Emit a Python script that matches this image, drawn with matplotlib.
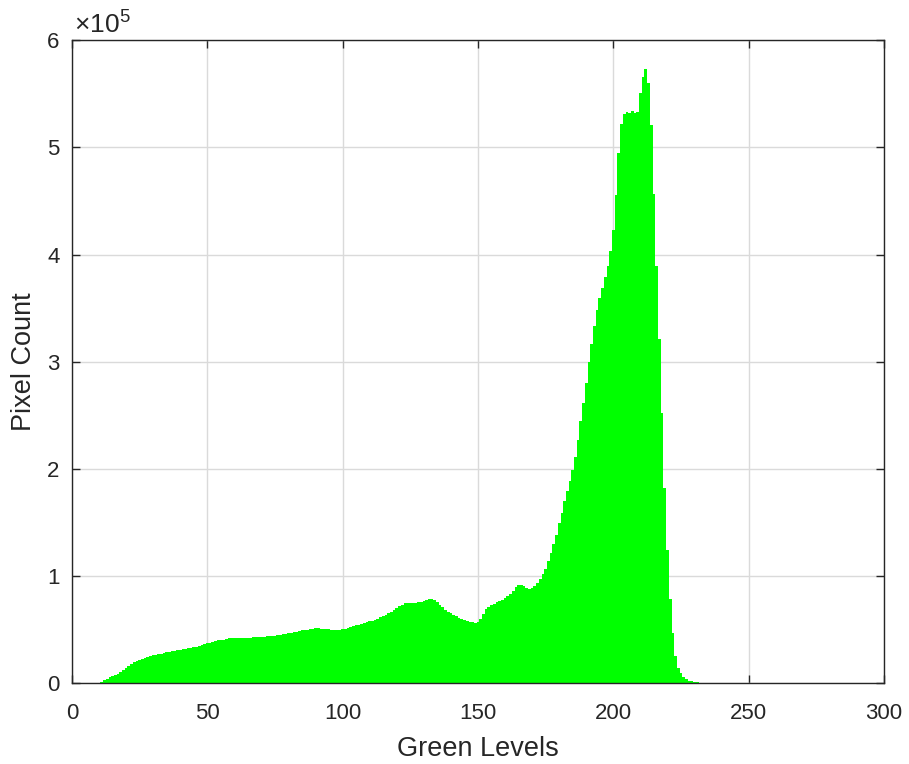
import numpy as np
import matplotlib
matplotlib.use('Agg')
import matplotlib.pyplot as plt
from matplotlib.ticker import FuncFormatter

plt.rcParams['font.family'] = ['Liberation Sans', 'DejaVu Sans']
plt.rcParams['mathtext.fontset'] = 'custom'
plt.rcParams['mathtext.rm'] = 'Liberation Sans'

# green level bins 0..255
levels = np.arange(256)

# pixel counts per level, in thousands
counts_k = [
    0.1, 0.1, 0.1, 0.1, 0.1, 0.1, 0.1, 0.1, 0.1, 0.3,                  # 0-9
    0.8, 1.8, 3.0, 4.5, 5.9, 7.0, 8.0, 9.2, 10.6, 12.5,                # 10-19
    14.6, 16.5, 18.3, 19.8, 21.0, 22.0, 23.0, 24.0, 24.8, 25.5,        # 20-29
    26.2, 26.8, 27.4, 27.9, 28.4, 28.9, 29.4, 29.9, 30.3, 30.8,        # 30-39
    31.4, 31.9, 32.4, 32.9, 33.3, 33.8, 34.4, 35.0, 35.7, 36.4,        # 40-49
    37.3, 38.2, 39.0, 39.6, 40.1, 40.5, 41.0, 41.5, 42.0, 42.3,        # 50-59
    42.5, 42.6, 42.7, 42.7, 42.7, 42.8, 42.8, 42.9, 43.0, 43.1,        # 60-69
    43.3, 43.6, 43.9, 44.1, 44.3, 44.6, 44.9, 45.3, 45.8, 46.2,        # 70-79
    46.7, 47.2, 47.7, 48.3, 49.0, 49.5, 49.9, 50.3, 50.8, 51.1,        # 80-89
    51.4, 51.3, 51.1, 50.9, 50.7, 50.5, 50.3, 50.1, 49.9, 50.0,        # 90-99
    50.5, 51.2, 52.0, 52.7, 53.4, 54.1, 54.9, 55.8, 56.6, 57.3,        # 100-109
    57.9, 58.6, 59.2, 60.3, 61.6, 62.9, 64.2, 65.4, 66.9, 68.4,        # 110-119
    70.0, 71.8, 73.3, 74.6, 75.3, 75.5, 75.4, 75.4, 75.8, 76.4,        # 120-129
    77.0, 77.8, 78.5, 78.5, 77.7, 75.8, 73.5, 71.2, 68.8, 66.9,        # 130-139
    65.4, 64.0, 62.5, 61.2, 60.0, 58.9, 58.1, 57.5, 57.0, 56.8,        # 140-149
    57.6, 60.3, 65.0, 69.5, 71.5, 73.0, 74.3, 75.6, 76.8, 78.3,        # 150-159
    79.8, 81.6, 83.8, 86.6, 89.6, 91.8, 92.0, 90.9, 88.9, 87.9,        # 160-169
    88.8, 90.5, 93.5, 97.5, 101.7, 106.3, 114.1, 121.9, 129.7, 138.0,  # 170-179
    149.3, 159.2, 170.0, 179.4, 188.7, 199.0, 211.4, 227.0, 244.7, 261.2,  # 180-189
    280.5, 299.7, 316.9, 333.3, 348.2, 359.1, 368.5, 379.4, 389.3, 403.0,  # 190-199
    422.6, 455.5, 494.4, 521.9, 530.8, 533.0, 532.3, 533.6, 531.7, 533.3,  # 200-209
    551.0, 565.9, 573.4, 560.0, 520.8, 456.0, 389.3, 321.3, 252.3, 182.6,  # 210-219
    124.0, 78.4, 47.3, 26.0, 14.7, 9.4, 5.6, 3.8, 2.6, 2.0,            # 220-229
    1.5, 1.1, 0.9, 0.7, 0.6, 0.5, 0.45, 0.4, 0.35, 0.3,                # 230-239
    0.3, 0.3, 0.25, 0.25, 0.2, 0.2, 0.2, 0.2, 0.15, 0.15,              # 240-249
    0.15, 0.15, 0.1, 0.1, 0.1, 0.1,                                    # 250-255
]
counts = np.array(counts_k) * 1000

xticks = [0, 50, 100, 150, 200, 250, 300]
yticks = [0, 1e5, 2e5, 3e5, 4e5, 5e5, 6e5]

fig = plt.figure(figsize=(9.09, 7.64), dpi=100)
ax = fig.add_axes([0.0792, 0.1054, 0.8933, 0.8422])

ax.bar(levels, counts, width=1.0, color='#00ff00', linewidth=0, zorder=2)

ax.set_xlim(0, 300)
ax.set_ylim(0, 6e5)
ax.set_xticks(xticks)
ax.set_yticks(yticks)
ax.yaxis.set_major_formatter(FuncFormatter(lambda v, p: '%d' % round(v / 1e5)))

ax.grid(True, color='#dadada', linewidth=1.0, zorder=0)
ax.set_axisbelow(True)

axis_col = '#262626'
for s in ax.spines.values():
    s.set_color(axis_col)
    s.set_linewidth(1.0)
    s.set_zorder(3)
ax.tick_params(direction='in', length=6, width=1.0, color=axis_col,
               labelcolor=axis_col, labelsize=16, top=True, right=True)
ax.tick_params(axis='x', pad=14)
ax.tick_params(axis='y', pad=9)

ax.set_xlabel('Green Levels', fontsize=19.5, color=axis_col, labelpad=9)
ax.set_ylabel('Pixel Count', fontsize=19.5, color=axis_col, labelpad=7)

ax.text(0.003, 1.004, r'$\times10^{5}$', transform=ax.transAxes,
        fontsize=19, color=axis_col, ha='left', va='bottom')

fig.savefig('out.png', dpi=100)
